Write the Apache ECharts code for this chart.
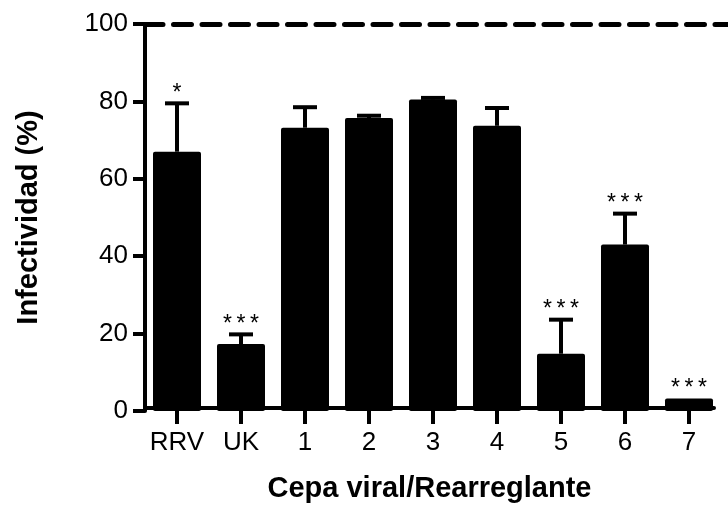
<!DOCTYPE html>
<html>
<head>
<meta charset="utf-8">
<script src="https://cdn.jsdelivr.net/npm/echarts@6/dist/echarts.min.js"></script>
<style>
  html, body { margin: 0; padding: 0; background: #fff; }
  #chart { width: 728px; height: 508px; }
</style>
</head>
<body>
<div id="chart"></div>
<script>
// ---- data ----
const categories = ['RRV', 'UK', '1', '2', '3', '4', '5', '6', '7'];
const means      = [67.0, 17.3, 73.2, 75.7, 80.5, 73.7, 14.8, 43.0, 3.2];
const errUpper   = [12.5, 2.5, 5.3, 0.6, 0.4, 4.6, 8.8, 8.0, 0];
const signif     = ['*', '***', '', '', '', '', '***', '***', '***'];
const yTicks     = [0, 20, 40, 60, 80, 100];
const referenceLevel = 100;
const xTitle = 'Cepa viral/Rearreglante';
const yTitle = 'Infectividad (%)';

const FONT = "'Liberation Sans', Arial, Helvetica, sans-serif";

const errData = categories.map((c, i) => [i, means[i], means[i] + errUpper[i]]);

const chart = echarts.init(document.getElementById('chart'), null, { renderer: 'canvas' });

const option = {
  animation: false,
  backgroundColor: '#ffffff',
  grid: [
    { left: 145, right: 7, top: 24, bottom: 97 },   // bars
    { left: 145, right: 14, top: 24, bottom: 97 },  // x axis line + title
    { left: 145, right: 0, top: 24, bottom: 97 }    // dashed reference line
  ],
  xAxis: [
    {
      gridIndex: 0,
      type: 'category',
      data: categories,
      axisLine: { show: false },
      axisTick: { show: true, alignWithLabel: true, interval: 0, length: 13, lineStyle: { color: '#000', width: 4 } },
      axisLabel: { color: '#000', fontSize: 26, fontFamily: FONT, margin: 19, interval: 0, hideOverlap: false },
      splitLine: { show: false }
    },
    {
      gridIndex: 1,
      type: 'value', min: 0, max: 1,
      axisLine: { show: true, onZero: false, lineStyle: { color: '#000', width: 4 } },
      axisTick: { show: false },
      axisLabel: { show: false },
      splitLine: { show: false },
      name: xTitle,
      nameLocation: 'middle',
      nameGap: 66,
      nameTextStyle: { color: '#000', fontSize: 29, fontWeight: 'bold', fontFamily: FONT }
    },
    {
      gridIndex: 2,
      type: 'value', min: 0, max: 1, show: false
    }
  ],
  yAxis: [
    {
      gridIndex: 0,
      type: 'value',
      min: yTicks[0], max: yTicks[yTicks.length - 1], interval: 20,
      axisLine: { show: true, lineStyle: { color: '#000', width: 4 } },
      axisTick: { show: true, length: 12, lineStyle: { color: '#000', width: 4 } },
      axisLabel: { color: '#000', fontSize: 26, fontFamily: FONT, margin: 17 },
      splitLine: { show: false },
      name: yTitle,
      nameLocation: 'middle',
      nameGap: 102,
      nameTextStyle: { color: '#000', fontSize: 29, fontWeight: 'bold', fontFamily: FONT }
    },
    { gridIndex: 1, type: 'value', min: 0, max: 100, show: false },
    { gridIndex: 2, type: 'value', min: 0, max: 100, show: false }
  ],
  series: [
    {
      type: 'bar',
      xAxisIndex: 0, yAxisIndex: 0,
      data: means,
      barWidth: 48,
      itemStyle: { color: '#000', borderRadius: 2 },
      z: 2
    },
    {
      type: 'custom',
      xAxisIndex: 0, yAxisIndex: 0,
      data: errData,
      encode: { x: 0, y: [1, 2] },
      z: 3,
      renderItem: function (params, api) {
        const i = api.value(0);
        const pMean = api.coord([i, api.value(1)]);
        const pTop = api.coord([i, api.value(2)]);
        const half = 12;
        const children = [];
        if (api.value(2) > api.value(1)) {
          children.push(
            { type: 'line', shape: { x1: pMean[0], y1: pMean[1], x2: pTop[0], y2: pTop[1] },
              style: { stroke: '#000', lineWidth: 4 } },
            { type: 'line', shape: { x1: pTop[0] - half, y1: pTop[1], x2: pTop[0] + half, y2: pTop[1] },
              style: { stroke: '#000', lineWidth: 4 } }
          );
        }
        const s = signif[params.dataIndex];
        if (s) {
          children.push({
            type: 'text',
            style: {
              text: s.split('').join('\u2009'),
              x: pTop[0], y: pTop[1] - 10,
              align: 'center', verticalAlign: 'middle',
              fill: '#000',
              font: '23px ' + FONT
            }
          });
        }
        return { type: 'group', children: children };
      }
    },
    {
      type: 'line',
      xAxisIndex: 2, yAxisIndex: 2,
      data: [],
      symbol: 'none',
      silent: true,
      markLine: {
        silent: true,
        symbol: ['none', 'none'],
        label: { show: false },
        lineStyle: { color: '#000', width: 5, type: [18, 10.5], cap: 'round' },
        data: [{ yAxis: referenceLevel }]
      }
    }
  ]
};

chart.setOption(option);
</script>
</body>
</html>
